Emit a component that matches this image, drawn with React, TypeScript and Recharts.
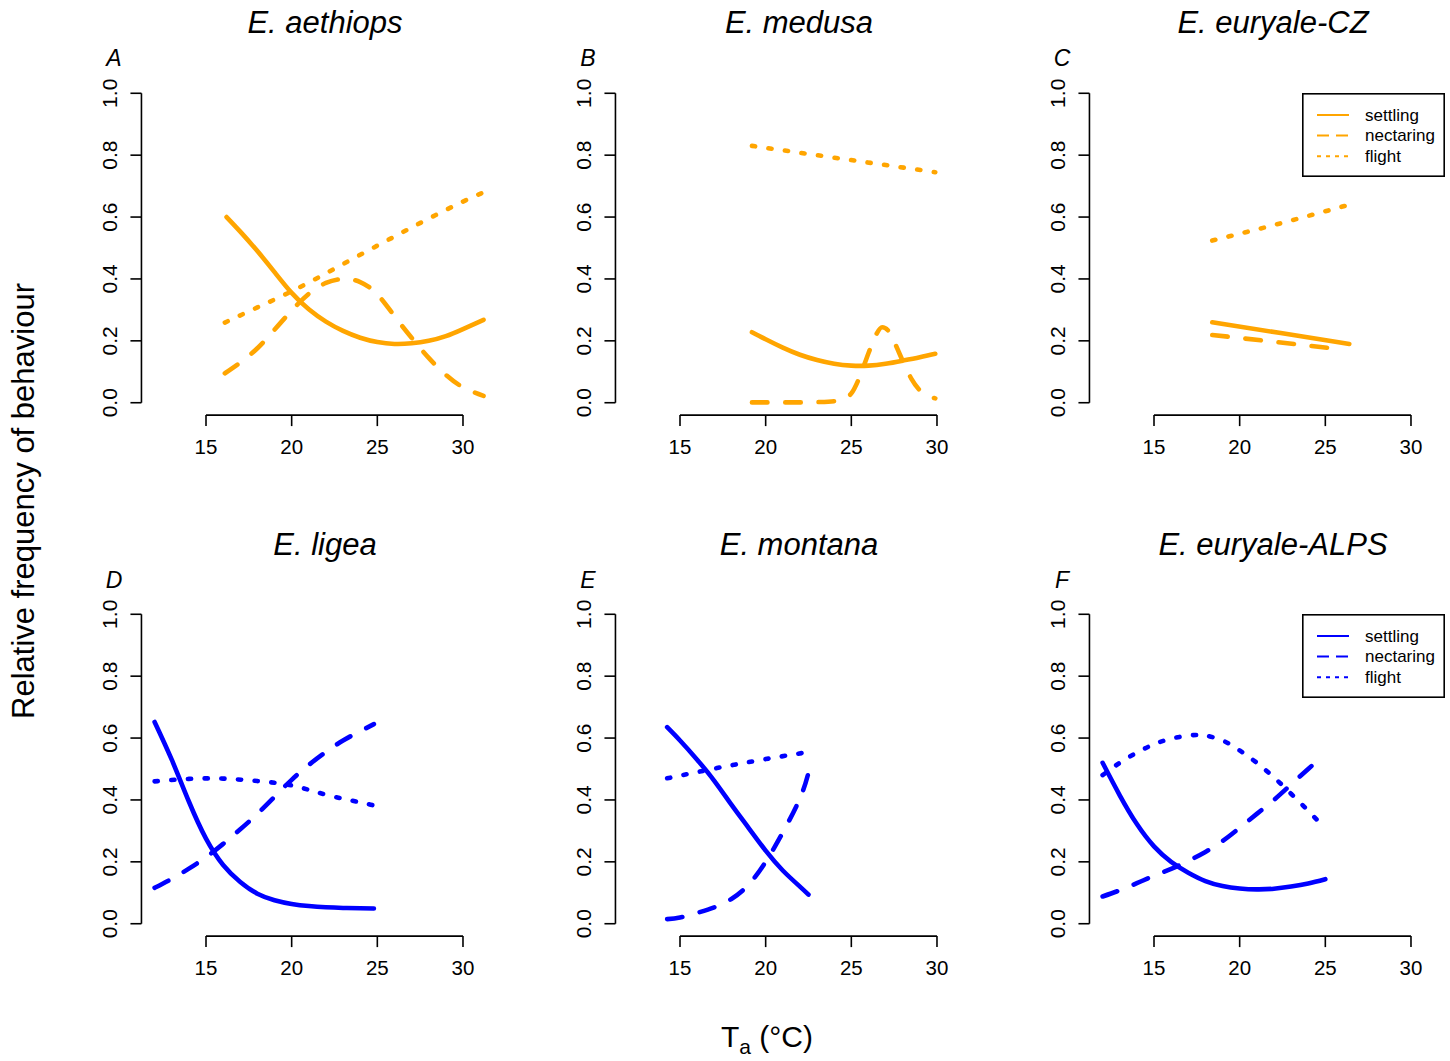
import { LineChart, Line, XAxis, YAxis, ReferenceLine, Legend } from "recharts"

type Pt = [number, number]

// temperature (°C) -> relative frequency
const aethiopsSettling: Pt[] = [[16.2, 0.6], [17, 0.553], [18, 0.49], [19, 0.422], [20, 0.355], [21, 0.302], [22, 0.262], [23, 0.232], [24, 0.21], [25, 0.196], [26, 0.19], [27, 0.192], [28, 0.2], [29, 0.215], [30, 0.238], [31.2, 0.268]]
const aethiopsNectaring: Pt[] = [[16.1, 0.095], [17, 0.13], [18, 0.176], [19, 0.236], [20, 0.298], [21, 0.352], [22, 0.387], [23, 0.4], [24, 0.39], [25, 0.35], [26, 0.28], [27, 0.21], [28, 0.145], [29, 0.09], [30, 0.05], [31.2, 0.022]]
const aethiopsFlight: Pt[] = [[16.1, 0.259], [18, 0.308], [20, 0.36], [22, 0.418], [24, 0.478], [26, 0.537], [28, 0.595], [30, 0.65], [31.2, 0.68]]

const medusaSettling: Pt[] = [[19.2, 0.228], [20, 0.205], [21, 0.178], [22, 0.155], [23, 0.138], [24, 0.126], [25, 0.12], [26, 0.12], [27, 0.126], [28, 0.136], [29, 0.147], [29.9, 0.158]]
const medusaNectaring: Pt[] = [[19.2, 0.001], [20, 0.001], [21, 0.001], [22, 0.001], [23, 0.002], [24, 0.005], [24.5, 0.012], [25, 0.03], [25.5, 0.085], [26, 0.16], [26.4, 0.215], [26.8, 0.244], [27.2, 0.23], [27.6, 0.185], [28, 0.135], [28.5, 0.078], [29, 0.04], [29.5, 0.022], [29.9, 0.014]]
const medusaFlight: Pt[] = [[19.2, 0.83], [24.5, 0.788], [29.9, 0.745]]

const euryaleCzSettling: Pt[] = [[18.4, 0.26], [22.4, 0.225], [26.4, 0.19]]
const euryaleCzNectaring: Pt[] = [[18.4, 0.219], [22, 0.197], [25.4, 0.176]]
const euryaleCzFlight: Pt[] = [[18.4, 0.524], [22.4, 0.58], [26.4, 0.64]]

const ligeaSettling: Pt[] = [[12, 0.652], [13, 0.53], [14, 0.395], [15, 0.275], [16, 0.19], [17, 0.135], [18, 0.097], [19, 0.076], [20, 0.064], [21, 0.057], [22, 0.053], [23, 0.051], [24, 0.05], [24.8, 0.049]]
const ligeaNectaring: Pt[] = [[12, 0.116], [13, 0.145], [14, 0.178], [15, 0.215], [16, 0.258], [17, 0.305], [18, 0.355], [19, 0.41], [20, 0.465], [21, 0.513], [22, 0.555], [23, 0.592], [24, 0.622], [24.8, 0.645]]
const ligeaFlight: Pt[] = [[12, 0.46], [14, 0.468], [16, 0.469], [18, 0.461], [20, 0.447], [22, 0.417], [24, 0.392], [24.8, 0.382]]

const montanaSettling: Pt[] = [[14.25, 0.635], [15, 0.592], [16, 0.53], [17, 0.462], [18, 0.385], [19, 0.31], [20, 0.236], [21, 0.172], [22, 0.12], [22.5, 0.094]]
const montanaNectaring: Pt[] = [[14.25, 0.015], [15, 0.02], [16, 0.035], [17, 0.053], [18, 0.08], [19, 0.126], [20, 0.2], [21, 0.295], [22, 0.405], [22.5, 0.488]]
const montanaFlight: Pt[] = [[14.25, 0.47], [16, 0.49], [18, 0.512], [20, 0.532], [22.5, 0.555]]

const euryaleAlpsSettling: Pt[] = [[12, 0.52], [13, 0.415], [14, 0.322], [15, 0.25], [16, 0.2], [17, 0.165], [18, 0.138], [19, 0.122], [20, 0.114], [21, 0.111], [22, 0.113], [23, 0.12], [24, 0.13], [25, 0.144]]
const euryaleAlpsNectaring: Pt[] = [[12, 0.088], [13, 0.108], [14, 0.131], [15, 0.155], [16, 0.177], [17, 0.203], [18, 0.232], [19, 0.267], [20, 0.31], [21, 0.355], [22, 0.4], [23, 0.45], [24, 0.5], [24.8, 0.54]]
const euryaleAlpsFlight: Pt[] = [[12, 0.48], [13, 0.52], [14, 0.553], [15, 0.58], [16, 0.598], [17, 0.608], [17.5, 0.61], [18, 0.608], [19, 0.592], [20, 0.56], [21, 0.52], [22, 0.473], [23, 0.42], [24, 0.365], [24.9, 0.313]]

const species = ["E. aethiops", "E. medusa", "E. euryale-CZ", "E. ligea", "E. montana", "E. euryale-ALPS"]
const panelLetters = ["A", "B", "C", "D", "E", "F"]
const behaviours = ["settling", "nectaring", "flight"]
const xTicks = [15, 20, 25, 30]
const yTicks = [0, 0.2, 0.4, 0.6, 0.8, 1]

const panelSeries: Pt[][][] = [
  [aethiopsSettling, aethiopsNectaring, aethiopsFlight],
  [medusaSettling, medusaNectaring, medusaFlight],
  [euryaleCzSettling, euryaleCzNectaring, euryaleCzFlight],
  [ligeaSettling, ligeaNectaring, ligeaFlight],
  [montanaSettling, montanaNectaring, montanaFlight],
  [euryaleAlpsSettling, euryaleAlpsNectaring, euryaleAlpsFlight],
]

const FONT = '"Liberation Sans", Arial, Helvetica, sans-serif'
const ORANGE = "#FFA500"
const BLUE = "#0000FF"
const LINE_W = 4.6
const DASHES = ["", "15.5 17.8", "3.2 13.5"]
const KEY_DASHES = ["", "12 7", "4 5"]

const X_DOMAIN = [11.232, 31.968]
const Y_DOMAIN = [-0.04, 1.04]
const CHART_W = 520
const CHART_H = 522
const MARGIN = { top: 80.9, right: 23.3, bottom: 76.9, left: 81.45 }
const COL_STEP = 474
const ROW_STEP = 521.4

const XTick = (props: any) => {
  const { x, y, payload } = props
  return (
    <text x={x} y={y + 20.6} textAnchor="middle" dominantBaseline="central" fontSize={20.5} fontFamily={FONT} fill="#000">
      {payload.value}
    </text>
  )
}

const YTick = (props: any) => {
  const { x, y, payload } = props
  const cx = x - 20.7
  return (
    <text
      x={cx}
      y={y}
      transform={`rotate(-90 ${cx} ${y})`}
      textAnchor="middle"
      dominantBaseline="central"
      fontSize={21}
      fontFamily={FONT}
      fill="#000"
    >
      {Number(payload.value).toFixed(1)}
    </text>
  )
}

function BehaviourKey({ color }: { color: string }) {
  return (
    <svg width={143} height={84} style={{ display: "block" }}>
      <rect x={0.8} y={0.8} width={141.4} height={82.4} fill="#fff" stroke="#000" strokeWidth={1.6} />
      {behaviours.map((b, i) => (
        <g key={b}>
          <line x1={15} x2={47} y1={22 + i * 20.6} y2={22 + i * 20.6} stroke={color} strokeWidth={2} strokeDasharray={KEY_DASHES[i]} />
          <text x={63} y={22 + i * 20.6} dominantBaseline="central" fontSize={17} fontFamily={FONT} fill="#000">
            {b}
          </text>
        </g>
      ))}
    </svg>
  )
}

function Panel({ index }: { index: number }) {
  const row = Math.floor(index / 3)
  const col = index % 3
  const color = row === 0 ? ORANGE : BLUE
  const hasKey = col === 2
  return (
    <div style={{ position: "absolute", left: col * COL_STEP, top: row * ROW_STEP }}>
      <LineChart width={CHART_W} height={CHART_H} margin={MARGIN}>
        <XAxis
          type="number"
          dataKey="t"
          domain={X_DOMAIN}
          ticks={xTicks}
          allowDataOverflow
          axisLine={false}
          tickSize={11}
          tickMargin={0}
          tickLine={{ stroke: "#000", strokeWidth: 1.6 }}
          tick={XTick}
          height={30}
        />
        <YAxis
          type="number"
          domain={Y_DOMAIN}
          ticks={yTicks}
          allowDataOverflow
          axisLine={false}
          tickSize={11}
          tickMargin={0}
          tickLine={{ stroke: "#000", strokeWidth: 1.6 }}
          tick={YTick}
          width={60}
        />
        <ReferenceLine
          segment={[{ x: xTicks[0], y: Y_DOMAIN[0] }, { x: xTicks[xTicks.length - 1], y: Y_DOMAIN[0] }]}
          stroke="#000"
          strokeWidth={1.6}
          ifOverflow="visible"
        />
        <ReferenceLine
          segment={[{ x: X_DOMAIN[0], y: yTicks[0] }, { x: X_DOMAIN[0], y: yTicks[yTicks.length - 1] }]}
          stroke="#000"
          strokeWidth={1.6}
          ifOverflow="visible"
        />
        {panelSeries[index].map((series, i) => (
          <Line
            key={behaviours[i]}
            data={series.map(([t, v]) => ({ t, v }))}
            dataKey="v"
            type={index === 1 && i === 1 ? "monotone" : "natural"}
            stroke={color}
            strokeWidth={LINE_W}
            strokeDasharray={DASHES[i]}
            strokeLinecap="round"
            strokeLinejoin="round"
            dot={false}
            activeDot={false}
            isAnimationActive={false}
          />
        ))}
        {hasKey && (
          <Legend
            layout="vertical"
            align="center"
            verticalAlign="middle"
            wrapperStyle={{ left: 1301.7 - 2 * COL_STEP, top: 92.7, width: 143, height: 84 }}
            content={() => <BehaviourKey color={color} />}
          />
        )}
      </LineChart>
    </div>
  )
}

export default function App() {
  return (
    <div style={{ position: "absolute", left: 0, top: 0, width: 1450, height: 1061, overflow: "hidden", background: "#fff" }}>
      {species.map((_, i) => (
        <Panel key={i} index={i} />
      ))}
      <svg width={1450} height={1061} style={{ position: "absolute", left: 0, top: 0, pointerEvents: "none" }}>
        {species.map((name, i) => {
          const row = Math.floor(i / 3)
          const col = i % 3
          return (
            <g key={name} fontFamily={FONT} fontStyle="italic" fill="#000">
              <text x={325 + col * COL_STEP} y={33 + row * 522} textAnchor="middle" fontSize={31}>
                {name}
              </text>
              <text x={114 + col * COL_STEP} y={66 + row * 522} textAnchor="middle" fontSize={23}>
                {panelLetters[i]}
              </text>
            </g>
          )
        })}
        <text
          x={23}
          y={501}
          transform="rotate(-90 23 501)"
          textAnchor="middle"
          dominantBaseline="central"
          fontSize={31}
          fontFamily={FONT}
          fill="#000"
        >
          Relative frequency of behaviour
        </text>
        <text x={767} y={1047} textAnchor="middle" fontSize={30} fontFamily={FONT} fill="#000">
          T<tspan fontSize={21} dy={7}>a</tspan>
          <tspan dy={-7}> (°C)</tspan>
        </text>
      </svg>
    </div>
  )
}
